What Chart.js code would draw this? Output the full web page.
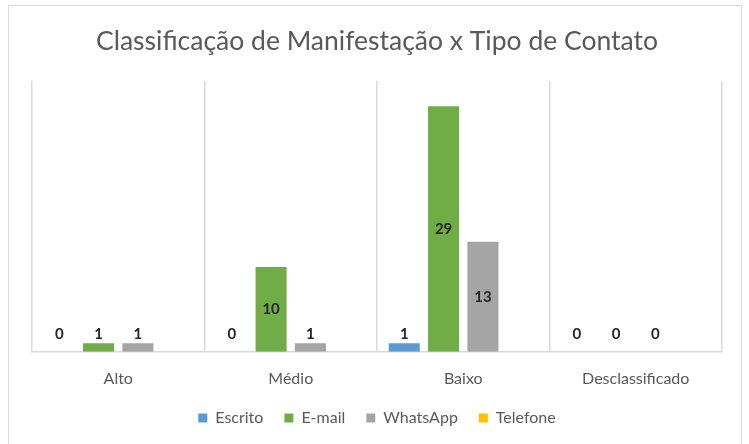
<!DOCTYPE html>
<html>
<head>
<meta charset="utf-8">
<script src="https://cdn.jsdelivr.net/npm/chart.js@4.4.0/dist/chart.umd.min.js"></script>
<style>
  html, body { margin: 0; padding: 0; background: #fff; }
  #wrap { position: relative; width: 749px; height: 444px; }
  #frame { position: absolute; left: 8px; top: 5px; width: 734px; height: 460px; border: 1px solid #d9d9d9; box-sizing: border-box; }
  canvas { position: absolute; left: 0; top: 0; }
</style>
</head>
<body>
<div id="wrap">
  <div id="frame"></div>
  <canvas id="chart" width="749" height="444"></canvas>
</div>
<script>
// Dados do gráfico
const categorias = ['Alto', 'Médio', 'Baixo', 'Desclassificado'];
const escrito = [0, 0, 1, 0];
const email = [1, 10, 29, 0];
const whatsapp = [1, 1, 13, 0];
const telefone = [null, null, null, null];

const fonte = 'Lato, "Open Sans", sans-serif';

// Rótulos de dados (negrito, no meio da barra ou acima se a barra for baixa)
const rotulos = {
    id: 'rotulos',
    afterDatasetsDraw(chart) {
        const ctx = chart.ctx;
        const base = chart.scales.y.getPixelForValue(0);
        ctx.save();
        ctx.font = 'bold 15px ' + fonte;
        ctx.fillStyle = '#262626';
        ctx.textAlign = 'center';
        ctx.textBaseline = 'middle';
        chart.data.datasets.forEach((ds, i) => {
            const meta = chart.getDatasetMeta(i);
            meta.data.forEach((bar, j) => {
                const v = ds.data[j];
                if (v === null || v === undefined) return;
                const h = base - bar.y;
                const y = h > 40 ? bar.y + h / 2 : base - 18;
                ctx.fillText(String(v), bar.x, y);
            });
        });
        ctx.restore();
    }
};

const ctx = document.getElementById('chart').getContext('2d');
new Chart(ctx, {
    type: 'bar',
    data: {
        labels: categorias,
        datasets: [
            { label: 'Escrito', data: escrito, backgroundColor: '#5B9BD5' },
            { label: 'E-mail', data: email, backgroundColor: '#70AD47' },
            { label: 'WhatsApp', data: whatsapp, backgroundColor: '#A5A5A5' },
            { label: 'Telefone', data: telefone, backgroundColor: '#FFC000' }
        ]
    },
    options: {
        responsive: false,
        animation: false,
        categoryPercentage: 0.912,
        barPercentage: 0.79,
        layout: { padding: { left: 32, right: 27, top: 0, bottom: 8 } },
        plugins: {
            title: {
                display: true,
                text: 'Classificação de Manifestação x Tipo de Contato',
                color: '#595959',
                font: { family: fonte, size: 26.5, weight: 'normal' },
                padding: { top: 26, bottom: 23 }
            },
            legend: {
                position: 'bottom',
                labels: {
                    color: '#595959',
                    font: { family: fonte, size: 16 },
                    boxWidth: 9,
                    boxHeight: 9,
                    padding: 21
                }
            },
            tooltip: { enabled: false }
        },
        scales: {
            x: {
                grid: { offset: true, color: '#d9d9d9', lineWidth: 1.5, drawTicks: false },
                border: { color: '#d9d9d9', width: 1.5 },
                ticks: { color: '#595959', font: { family: fonte, size: 16 }, padding: 17 },
                afterFit(scale) { scale.height -= 16; }
            },
            y: {
                display: false,
                min: 0,
                max: 32
            }
        }
    },
    plugins: [rotulos]
});
</script>
</body>
</html>
